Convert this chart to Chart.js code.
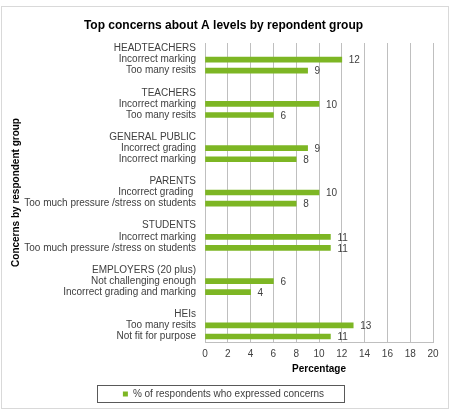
<!DOCTYPE html>
<html>
<head>
<meta charset="utf-8">
<script src="https://cdn.jsdelivr.net/npm/chart.js@4"></script>
<style>
  html, body { margin: 0; padding: 0; background: #fff; }
  #wrap { width: 451px; height: 414px; }
</style>
</head>
<body>
<div id="wrap"><canvas id="chart" width="451" height="414"></canvas></div>
<script>
// Respondent groups, their two top concerns and the % who expressed them
const groupNames = ["HEADTEACHERS", "TEACHERS", "GENERAL PUBLIC", "PARENTS", "STUDENTS", "EMPLOYERS (20 plus)", "HEIs"];
const concernLabels = [
  ["Incorrect marking", "Too many resits"],
  ["Incorrect marking", "Too many resits"],
  ["Incorrect grading", "Incorrect marking"],
  ["Incorrect grading ", "Too much pressure /stress on students"],
  ["Incorrect marking", "Too much pressure /stress on students"],
  ["Not challenging enough", "Incorrect grading and marking"],
  ["Too many resits", "Not fit for purpose"]
];
const percentages = [[12, 9], [10, 6], [9, 8], [10, 8], [11, 11], [6, 4], [13, 11]];
const xTicks = [0, 2, 4, 6, 8, 10, 12, 14, 16, 18, 20];

// Build rows: group header, two concerns, blank spacer
const labels = [];
const values = [];
groupNames.forEach((g, i) => {
  if (i > 0) { labels.push(""); values.push(null); }
  labels.push(g); values.push(null);
  concernLabels[i].forEach((c, j) => {
    labels.push(c);
    values.push(percentages[i][j]);
  });
});

const FONT = "'Liberation Sans', Arial, sans-serif";
const GREEN = "#7db624";
const TEXT = "#404040";

// White background and outer frame
const framePlugin = {
  id: "frame",
  beforeDraw(chart) {
    const ctx = chart.ctx;
    ctx.save();
    ctx.fillStyle = "#fff";
    ctx.fillRect(0, 0, chart.width, chart.height);
    ctx.strokeStyle = "#d9d9d9";
    ctx.lineWidth = 1;
    ctx.strokeRect(1.5, 6.5, 447, 402);
    ctx.restore();
  },
  afterDraw(chart) {
    // border round the legend
    const hb = chart.legend.legendHitBoxes[0];
    if (!hb) return;
    const ctx = chart.ctx;
    ctx.save();
    ctx.strokeStyle = "#595959";
    ctx.lineWidth = 1;
    const left = Math.round(hb.left - 26) + 0.5;
    const right = Math.round(hb.left + hb.width + 20) + 0.5;
    ctx.strokeRect(left, 385.5, right - left, 17);
    ctx.restore();
  }
};

// Value labels at the end of each bar
const valueLabels = {
  id: "valueLabels",
  afterDatasetsDraw(chart) {
    const ctx = chart.ctx;
    const meta = chart.getDatasetMeta(0);
    ctx.save();
    ctx.font = "10px " + FONT;
    ctx.fillStyle = TEXT;
    ctx.textAlign = "left";
    ctx.textBaseline = "middle";
    meta.data.forEach((bar, i) => {
      const v = chart.data.datasets[0].data[i];
      if (v === null) return;
      ctx.fillText(String(v), bar.x + 7, bar.y + 1);
    });
    ctx.restore();
  }
};

new Chart(document.getElementById("chart"), {
  type: "bar",
  data: {
    labels: labels,
    datasets: [{
      label: "% of respondents who expressed concerns",
      data: values,
      backgroundColor: GREEN,
      barThickness: 5
    }]
  },
  options: {
    indexAxis: "y",
    responsive: false,
    animation: false,
    layout: { padding: { top: 6, left: 7, right: 11, bottom: 5 } },
    plugins: {
      title: {
        display: true,
        text: "Top concerns about A levels by repondent group",
        color: "#000",
        font: { family: FONT, size: 12, weight: "bold" },
        padding: { top: 12, bottom: 10.6 }
      },
      legend: {
        position: "bottom",
        labels: {
          color: TEXT,
          font: { family: FONT, size: 10 },
          boxWidth: 5,
          boxHeight: 5
        }
      },
      tooltip: { enabled: false }
    },
    scales: {
      x: {
        min: 0,
        max: 20,
        afterBuildTicks(scale) {
          scale.ticks = xTicks.map(v => ({ value: v }));
        },
        afterFit(scale) { scale.height = 37; },
        grid: { color: "#bfbfbf", drawTicks: false },
        border: { display: true, color: "#bfbfbf" },
        ticks: { color: TEXT, font: { family: FONT, size: 10 }, padding: 6 },
        title: {
          display: true,
          text: "Percentage",
          color: "#000",
          font: { family: FONT, size: 10, weight: "bold" },
          padding: { top: 0, bottom: 4 }
        }
      },
      y: {
        afterFit(scale) { scale.width = 198; },
        grid: { display: false, drawTicks: false },
        border: { display: true, color: "#bfbfbf" },
        ticks: { color: TEXT, font: { family: FONT, size: 10 }, padding: 9, autoSkip: false },
        title: {
          display: true,
          text: "Concerns by respondent group",
          color: "#000",
          font: { family: FONT, size: 10, weight: "bold" },
          padding: { top: 3, bottom: 0 }
        }
      },
      // empty spacer on the right so the plot ends at 20 like the original
      yRight: {
        type: "category",
        position: "right",
        display: true,
        afterFit(scale) { scale.width = 7; },
        grid: { display: false, drawTicks: false },
        border: { display: false },
        ticks: { display: false }
      }
    }
  },
  plugins: [framePlugin, valueLabels]
});
</script>
</body>
</html>
